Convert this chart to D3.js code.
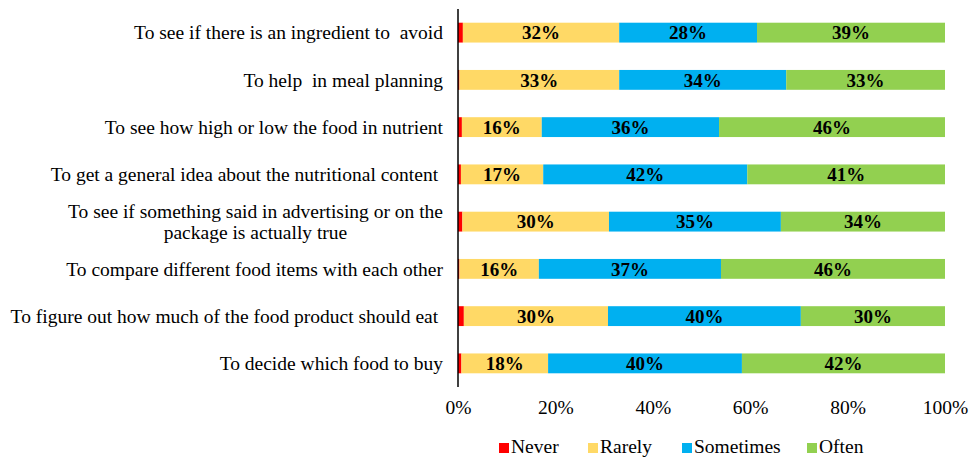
<!DOCTYPE html>
<html><head><meta charset="utf-8">
<script src="https://cdn.jsdelivr.net/npm/d3@7"></script>
<style>body{margin:0;background:#fff;} svg{display:block;} text{white-space:pre;}</style>
</head><body>
<svg id="chart" width="972" height="460"></svg>
<script>
const categories = [
  ["To see if there is an ingredient to  avoid"],
  ["To help  in meal planning"],
  ["To see how high or low the food in nutrient"],
  ["To get a general idea about the nutritional content "],
  ["To see if something said in advertising or on the", "package is actually true"],
  ["To compare different food items with each other"],
  ["To figure out how much of the food product should eat "],
  ["To decide which food to buy"]
];
const seriesNames = ["Never", "Rarely", "Sometimes", "Often"];
const never     = [1.0, 0.3, 0.8, 0.6, 0.9, 0.3, 1.2, 0.7];
const rarely    = [32.1, 32.8, 16.4, 16.9, 30.1, 16.3, 29.6, 17.8];
const sometimes = [28.3, 34.3, 36.4, 41.9, 35.3, 37.4, 39.6, 39.8];
const often     = [38.6, 32.6, 46.4, 40.6, 33.7, 46.0, 29.6, 41.7];
const tickValues = [0, 20, 40, 60, 80, 100];
const colors = ["#FF0000", "#FFD966", "#00B0F0", "#92D050"];

const FONT = "'Liberation Serif', 'Times New Roman', serif";
const FS = 19.5;
const svg = d3.select("#chart");
const x0 = 458, x1 = 945;
const x = d3.scaleLinear().domain([0, 100]).range([x0, x1]);
const y = d3.scaleBand().domain(d3.range(categories.length)).range([9, 387]).paddingInner(0.58).paddingOuter(0.29);

const table = categories.map((c, i) => ({i, Never: never[i], Rarely: rarely[i], Sometimes: sometimes[i], Often: often[i]}));
const stack = d3.stack().keys(seriesNames)(table);

const g = svg.append("g");
stack.forEach((layer, k) => {
  g.selectAll(null).data(layer).enter().append("rect")
    .attr("x", d => x(d[0]))
    .attr("width", d => x(d[1]) - x(d[0]))
    .attr("y", d => y(d.data.i))
    .attr("height", y.bandwidth())
    .attr("fill", colors[k]);
  if (k > 0) {
    g.selectAll(null).data(layer).enter().append("text")
      .attr("x", d => (x(d[0]) + x(d[1])) / 2)
      .attr("y", d => y(d.data.i) + y.bandwidth() / 2)
      .attr("dy", "0.36em")
      .attr("text-anchor", "middle")
      .attr("font-family", FONT)
      .attr("font-weight", "bold")
      .attr("font-size", 19)
      .attr("fill", "#000")
      .text(d => Math.round(d[1] - d[0]) + "%");
  }
});

// category labels
categories.forEach((lines, i) => {
  const cy = y(i) + y.bandwidth() / 2;
  const t = svg.append("text")
    .attr("font-family", FONT)
    .attr("font-size", FS)
    .attr("fill", "#000")
    .attr("xml:space", "preserve");
  if (lines.length === 1) {
    t.attr("x", 443).attr("y", cy).attr("dy", "0.35em").attr("text-anchor", "end").text(lines[0]);
  } else {
    const tmp = svg.append("text").attr("font-family", FONT).attr("font-size", FS).text(lines[0]);
    const w = tmp.node().getComputedTextLength();
    tmp.remove();
    const cx = 443 - w / 2;
    t.attr("text-anchor", "middle");
    lines.forEach((ln, j) => {
      t.append("tspan").attr("x", cx).attr("y", cy + (j - (lines.length - 1) / 2) * 21).attr("dy", "0.35em").text(ln);
    });
  }
});

// vertical axis line
svg.append("line").attr("x1", x0).attr("x2", x0).attr("y1", 9).attr("y2", 387)
  .attr("stroke", "#000").attr("stroke-width", 1.5);

// x axis tick labels
const xAxis = d3.axisBottom(x).tickValues(tickValues).tickSize(0).tickFormat(d => d + "%");
const ax = svg.append("g").attr("transform", "translate(0,397)").call(xAxis);
ax.select(".domain").remove();
ax.selectAll("text").attr("font-family", FONT).attr("font-size", FS).attr("fill", "#000").attr("dy", "0.71em");

// legend
const legendX = [499, 588, 682, 807];
const lg = svg.append("g");
seriesNames.forEach((s, k) => {
  lg.append("rect").attr("x", legendX[k]).attr("y", 443).attr("width", 10).attr("height", 10).attr("fill", colors[k]);
  lg.append("text").attr("x", legendX[k] + 12).attr("y", 453)
    .attr("font-family", FONT).attr("font-size", FS).attr("fill", "#000").text(s);
});
</script>
</body></html>
